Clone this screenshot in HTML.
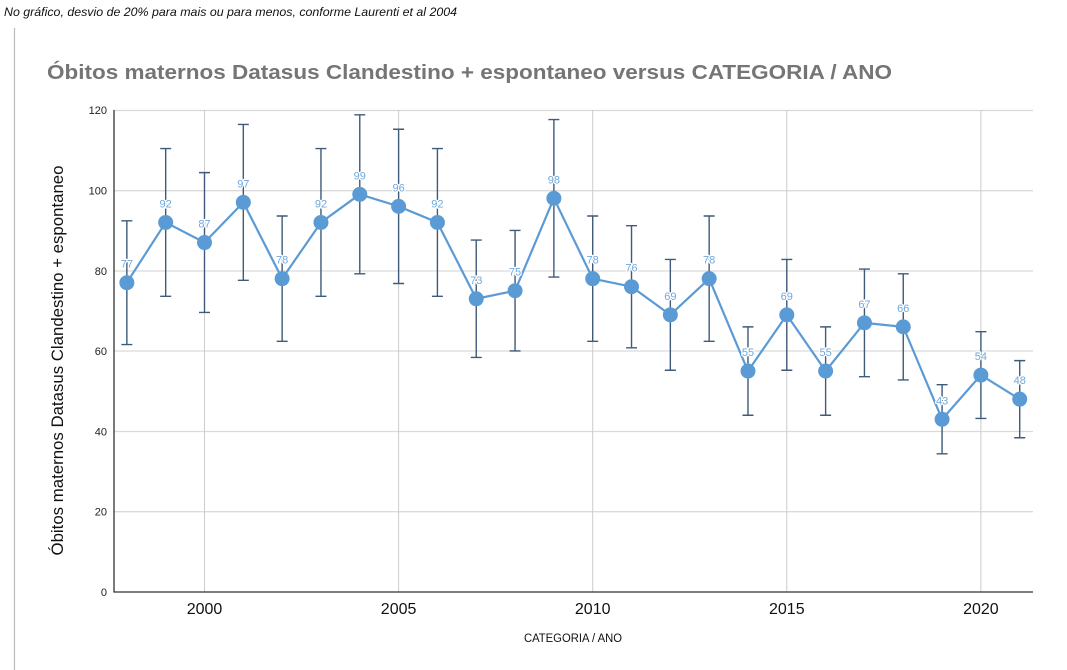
<!DOCTYPE html>
<html><head><meta charset="utf-8"><style>
html,body{margin:0;padding:0;background:#fff;}
svg{display:block;}
</style></head><body>
<svg width="1067" height="670" viewBox="0 0 1067 670" xmlns="http://www.w3.org/2000/svg">
<rect x="0" y="0" width="1067" height="670" fill="#fff"/>
<text x="4" y="16" font-family="Liberation Sans, sans-serif" font-style="italic" font-size="12" fill="#111" textLength="453" lengthAdjust="spacingAndGlyphs">No gráfico, desvio de 20% para mais ou para menos, conforme Laurenti et al 2004</text>
<line x1="14.5" y1="28" x2="14.5" y2="670" stroke="#bbb" stroke-width="1.2"/>
<text x="47" y="79" font-family="Liberation Sans, sans-serif" font-weight="bold" font-size="20" fill="#757575" textLength="845" lengthAdjust="spacingAndGlyphs">Óbitos maternos Datasus Clandestino + espontaneo versus CATEGORIA / ANO</text>
<g stroke="#dadada" stroke-width="1.3">
<line x1="114" y1="110.5" x2="1033" y2="110.5"/>
<line x1="114" y1="190.7" x2="1033" y2="190.7"/>
<line x1="114" y1="271" x2="1033" y2="271"/>
<line x1="114" y1="351" x2="1033" y2="351"/>
<line x1="114" y1="431.5" x2="1033" y2="431.5"/>
<line x1="114" y1="511.7" x2="1033" y2="511.7"/>
</g>
<g stroke="#cccccc" stroke-width="1">
<line x1="204.5" y1="110" x2="204.5" y2="592"/>
<line x1="398.6" y1="110" x2="398.6" y2="592"/>
<line x1="592.7" y1="110" x2="592.7" y2="592"/>
<line x1="786.8" y1="110" x2="786.8" y2="592"/>
<line x1="980.9" y1="110" x2="980.9" y2="592"/>
</g>
<line x1="114" y1="110" x2="114" y2="592.5" stroke="#333" stroke-width="1.3"/>
<line x1="113.5" y1="592" x2="1033" y2="592" stroke="#333" stroke-width="1.3"/>
<g font-family="Liberation Sans, sans-serif" font-size="11" fill="#222" text-anchor="end">
<text x="107" y="114">120</text>
<text x="107" y="194.5">100</text>
<text x="107" y="275">80</text>
<text x="107" y="355">60</text>
<text x="107" y="435.5">40</text>
<text x="107" y="515.5">20</text>
<text x="107" y="596">0</text>
</g>
<g font-family="Liberation Sans, sans-serif" font-size="16" fill="#111" text-anchor="middle">
<text x="204.5" y="614">2000</text>
<text x="398.6" y="614">2005</text>
<text x="592.7" y="614">2010</text>
<text x="786.8" y="614">2015</text>
<text x="980.9" y="614">2020</text>
</g>
<text x="573" y="642" font-family="Liberation Sans, sans-serif" font-size="11.5" fill="#111" text-anchor="middle" textLength="98" lengthAdjust="spacingAndGlyphs">CATEGORIA / ANO</text>
<text transform="translate(63,360.5) rotate(-90)" font-family="Liberation Sans, sans-serif" font-size="17" fill="#111" text-anchor="middle" textLength="390" lengthAdjust="spacingAndGlyphs">Óbitos maternos Datasus Clandestino + espontaneo</text>
<g stroke="#3f5a7a" stroke-width="1.4" fill="none">
<path d="M126.86 220.83V344.55M121.36 220.83H132.36M121.36 344.55H132.36"/>
<path d="M165.68 148.52V296.35M160.18 148.52H171.18M160.18 296.35H171.18"/>
<path d="M204.5 172.63V312.42M199 172.63H210M199 312.42H210"/>
<path d="M243.32 124.42V280.28M237.82 124.42H248.82M237.82 280.28H248.82"/>
<path d="M282.14 216.01V341.34M276.64 216.01H287.64M276.64 341.34H287.64"/>
<path d="M320.96 148.52V296.35M315.46 148.52H326.46M315.46 296.35H326.46"/>
<path d="M359.78 114.78V273.85M354.28 114.78H365.28M354.28 273.85H365.28"/>
<path d="M398.6 129.24V283.49M393.1 129.24H404.1M393.1 283.49H404.1"/>
<path d="M437.42 148.52V296.35M431.92 148.52H442.92M431.92 296.35H442.92"/>
<path d="M476.24 240.11V357.41M470.74 240.11H481.74M470.74 357.41H481.74"/>
<path d="M515.06 230.47V350.98M509.56 230.47H520.56M509.56 350.98H520.56"/>
<path d="M553.88 119.6V277.07M548.38 119.6H559.38M548.38 277.07H559.38"/>
<path d="M592.7 216.01V341.34M587.2 216.01H598.2M587.2 341.34H598.2"/>
<path d="M631.52 225.65V347.77M626.02 225.65H637.02M626.02 347.77H637.02"/>
<path d="M670.34 259.39V370.26M664.84 259.39H675.84M664.84 370.26H675.84"/>
<path d="M709.16 216.01V341.34M703.66 216.01H714.66M703.66 341.34H714.66"/>
<path d="M747.98 326.88V415.25M742.48 326.88H753.48M742.48 415.25H753.48"/>
<path d="M786.8 259.39V370.26M781.3 259.39H792.3M781.3 370.26H792.3"/>
<path d="M825.62 326.88V415.25M820.12 326.88H831.12M820.12 415.25H831.12"/>
<path d="M864.44 269.03V376.69M858.94 269.03H869.94M858.94 376.69H869.94"/>
<path d="M903.26 273.85V379.9M897.76 273.85H908.76M897.76 379.9H908.76"/>
<path d="M942.08 384.72V453.82M936.58 384.72H947.58M936.58 453.82H947.58"/>
<path d="M980.9 331.7V418.47M975.4 331.7H986.4M975.4 418.47H986.4"/>
<path d="M1019.72 360.62V437.75M1014.22 360.62H1025.22M1014.22 437.75H1025.22"/>
</g>
<polyline fill="none" stroke="#5b9bd5" stroke-width="2.2" stroke-linejoin="round" points="126.86,282.69 165.68,222.44 204.5,242.52 243.32,202.35 282.14,278.67 320.96,222.44 359.78,194.32 398.6,206.37 437.42,222.44 476.24,298.76 515.06,290.72 553.88,198.33 592.7,278.67 631.52,286.71 670.34,314.83 709.16,278.67 747.98,371.06 786.8,314.83 825.62,371.06 864.44,322.86 903.26,326.88 942.08,419.27 980.9,375.08 1019.72,399.18"/>
<g fill="#5b9bd5">
<circle cx="126.86" cy="282.69" r="7.5"/>
<circle cx="165.68" cy="222.44" r="7.5"/>
<circle cx="204.5" cy="242.52" r="7.5"/>
<circle cx="243.32" cy="202.35" r="7.5"/>
<circle cx="282.14" cy="278.67" r="7.5"/>
<circle cx="320.96" cy="222.44" r="7.5"/>
<circle cx="359.78" cy="194.32" r="7.5"/>
<circle cx="398.6" cy="206.37" r="7.5"/>
<circle cx="437.42" cy="222.44" r="7.5"/>
<circle cx="476.24" cy="298.76" r="7.5"/>
<circle cx="515.06" cy="290.72" r="7.5"/>
<circle cx="553.88" cy="198.33" r="7.5"/>
<circle cx="592.7" cy="278.67" r="7.5"/>
<circle cx="631.52" cy="286.71" r="7.5"/>
<circle cx="670.34" cy="314.83" r="7.5"/>
<circle cx="709.16" cy="278.67" r="7.5"/>
<circle cx="747.98" cy="371.06" r="7.5"/>
<circle cx="786.8" cy="314.83" r="7.5"/>
<circle cx="825.62" cy="371.06" r="7.5"/>
<circle cx="864.44" cy="322.86" r="7.5"/>
<circle cx="903.26" cy="326.88" r="7.5"/>
<circle cx="942.08" cy="419.27" r="7.5"/>
<circle cx="980.9" cy="375.08" r="7.5"/>
<circle cx="1019.72" cy="399.18" r="7.5"/>
</g>
<g font-family="Liberation Sans, sans-serif" font-size="11" fill="#6fa8dc" text-anchor="middle" stroke="#fff" stroke-width="2.5" stroke-linejoin="round" paint-order="stroke">
<text x="126.86" y="267.7">77</text>
<text x="165.68" y="207.4">92</text>
<text x="204.5" y="227.5">87</text>
<text x="243.32" y="187.4">97</text>
<text x="282.14" y="263.7">78</text>
<text x="320.96" y="207.4">92</text>
<text x="359.78" y="179.3">99</text>
<text x="398.6" y="191.4">96</text>
<text x="437.42" y="207.4">92</text>
<text x="476.24" y="283.8">73</text>
<text x="515.06" y="275.7">75</text>
<text x="553.88" y="183.3">98</text>
<text x="592.7" y="263.7">78</text>
<text x="631.52" y="271.7">76</text>
<text x="670.34" y="299.8">69</text>
<text x="709.16" y="263.7">78</text>
<text x="747.98" y="356.1">55</text>
<text x="786.8" y="299.8">69</text>
<text x="825.62" y="356.1">55</text>
<text x="864.44" y="307.9">67</text>
<text x="903.26" y="311.9">66</text>
<text x="942.08" y="404.3">43</text>
<text x="980.9" y="360.1">54</text>
<text x="1019.72" y="384.2">48</text>
</g>
</svg>
</body></html>
